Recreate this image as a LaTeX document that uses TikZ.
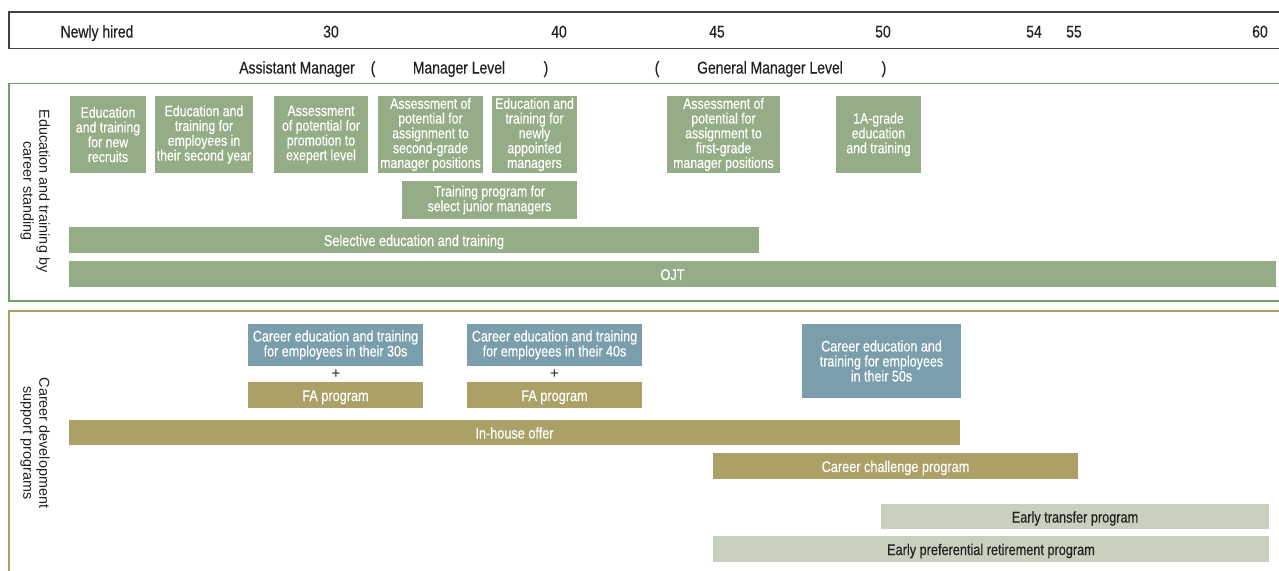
\documentclass[tikz,border=0pt]{standalone}
\usepackage{fontspec}
\setmainfont{Liberation Sans}
\newfontfamily\condfont[FakeStretch=0.82,FakeBold=0.4]{Liberation Sans}
\definecolor{boxgreen}{HTML}{95AD86}
\definecolor{boxblue}{HTML}{7A9EAB}
\definecolor{boxolive}{HTML}{ABA066}
\definecolor{boxlight}{HTML}{C8D1BD}
\definecolor{framegreen}{HTML}{6FA066}
\definecolor{frameolive}{HTML}{ABA066}
\definecolor{framegray}{HTML}{444444}
\definecolor{ink}{HTML}{222222}
\tikzset{
  bx/.style={inner sep=0pt, align=center, text=white, font=\condfont\fontsize{15}{14.8}\selectfont},
  gbox/.style={bx, fill=boxgreen},
  bbox/.style={bx, fill=boxblue, font=\condfont\fontsize{15.3}{15}\selectfont, yshift=0pt},
  onebar/.style={text height=14pt, text depth=2pt},
  obox/.style={bx, onebar, fill=boxolive, font=\condfont\fontsize{15.5}{15}\selectfont},
  gbar/.style={bx, onebar, fill=boxgreen, font=\condfont\fontsize{15.5}{15}\selectfont},
  lbar/.style={bx, onebar, fill=boxlight, text=ink, font=\condfont\fontsize{15.5}{15}\selectfont},
  hdr/.style={inner sep=0pt, anchor=base, text=ink, font=\condfont\fontsize{17}{17}\selectfont},
  sidelab/.style={inner sep=0pt, rotate=-90, align=center, text=ink, font=\fontsize{14.4}{16}\selectfont},
  plus/.style={inner sep=0pt, text=ink, font=\fontsize{15}{15}\selectfont},
}
\begin{document}
\begin{tikzpicture}[x=1pt,y=-1pt]
\fill[white] (0,0) rectangle (1279,570);
\useasboundingbox (0,0) rectangle (1279,570);
% frames
\draw[framegray, line width=1.2pt] (1279,12) -- (9,12) -- (9,48.5) -- (1279,48.5);
\draw[framegreen, line width=1.5pt] (1279,83.5) -- (9,83.5) -- (9,301) -- (1279,301);
\draw[frameolive, line width=1.5pt] (1279,311) -- (9,311) -- (9,572);
% header ages
\node[hdr] (hnew) at (97,37.5) {Newly hired};
\node[hdr] (h30) at (331,37.5) {30};
\node[hdr] (h40) at (559,37.5) {40};
\node[hdr] (h45) at (717,37.5) {45};
\node[hdr] (h50) at (883,37.5) {50};
\node[hdr] (h54) at (1034,37.5) {54};
\node[hdr] (h55) at (1074,37.5) {55};
\node[hdr] (h60) at (1260,37.5) {60};
% header levels
\node[hdr] (lasst) at (297,73.5) {Assistant Manager};
\node[hdr] (lp1) at (373,73.5) {(};
\node[hdr] (lmgr) at (459,73.5) {Manager Level};
\node[hdr] (lp2) at (546,73.5) {)};
\node[hdr] (lp3) at (657,73.5) {(};
\node[hdr] (lgm) at (770,73.5) {General Manager Level};
\node[hdr] (lp4) at (884,73.5) {)};
% side labels
\node[sidelab] (side1) at (35,191) {Education and training by\\career standing};
\node[sidelab] (side2) at (35,443) {Career development\\support programs};
% top section boxes
\node[gbox, minimum width=76pt, minimum height=77pt] (e1) at (108,134.5) {Education\\and training\\for new\\recruits};
\node[gbox, minimum width=98pt, minimum height=77pt] (e2) at (204,134.5) {Education and\\training for\\employees in\\their second year};
\node[gbox, minimum width=94pt, minimum height=77pt] (e3) at (321,134.5) {Assessment\\of potential for\\promotion to\\exepert level};
\node[gbox, minimum width=105pt, minimum height=77pt] (e4) at (430.5,134.5) {Assessment of\\potential for\\assignment to\\second-grade\\manager positions};
\node[gbox, minimum width=85pt, minimum height=77pt] (e5) at (534.5,134.5) {Education and\\training for\\newly\\appointed\\managers};
\node[gbox, minimum width=113pt, minimum height=77pt] (e6) at (723.5,134.5) {Assessment of\\potential for\\assignment to\\first-grade\\manager positions};
\node[gbox, minimum width=85pt, minimum height=77pt] (e7) at (878.5,134.5) {1A-grade\\education\\and training};
\node[gbox, minimum width=175pt, minimum height=38pt] (e8) at (489.5,200) {Training program for\\select junior managers};
\node[gbar, minimum width=690pt, minimum height=26pt] (sel) at (414,240) {Selective education and training};
\node[gbar, minimum width=1207pt, minimum height=26pt] (ojt) at (672.5,274) {OJT};
% bottom section
\node[bbox, minimum width=175pt, minimum height=42pt] (c30) at (335.5,345) {Career education and training\\for employees in their 30s};
\node[plus] (p30) at (336,374) {+};
\node[obox, minimum width=175pt, minimum height=26pt] (fa30) at (335.5,395) {FA program};
\node[bbox, minimum width=175pt, minimum height=42pt] (c40) at (554.5,345) {Career education and training\\for employees in their 40s};
\node[plus] (p40) at (554.5,374) {+};
\node[obox, minimum width=175pt, minimum height=26pt] (fa40) at (554.5,395) {FA program};
\node[bbox, minimum width=159pt, minimum height=74pt] (c50) at (881.5,361) {Career education and\\training for employees\\in their 50s};
\node[obox, minimum width=891pt, minimum height=25pt] (inh) at (514.5,432.5) {In-house offer};
\node[obox, minimum width=365pt, minimum height=26pt] (cch) at (895.5,466) {Career challenge program};
\node[lbar, minimum width=388pt, minimum height=25pt] (etr) at (1075,516.5) {Early transfer program};
\node[lbar, minimum width=556pt, minimum height=26pt] (epr) at (991,549) {Early preferential retirement program};
\end{tikzpicture}
\end{document}
